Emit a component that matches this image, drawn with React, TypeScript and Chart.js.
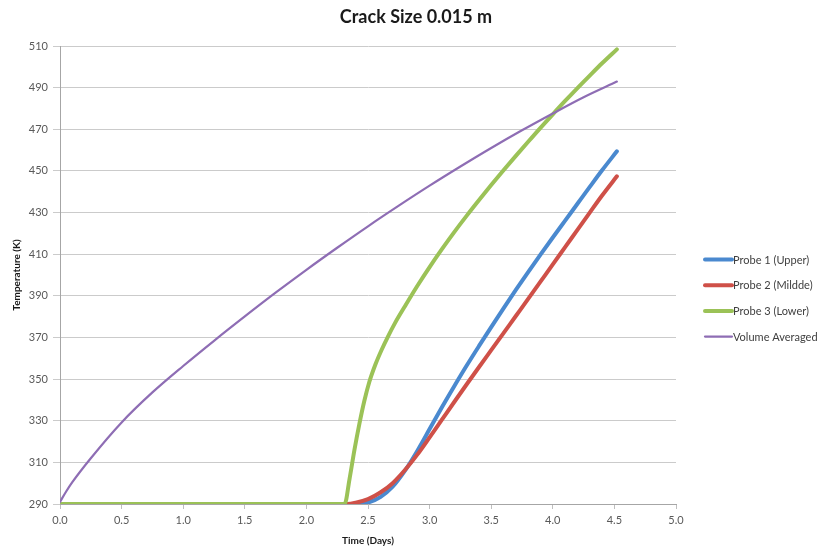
import React, { useEffect, useRef } from 'react';
import { Chart, registerables } from 'chart.js';

Chart.register(...registerables);

const TITLE = 'Crack Size 0.015 m';
const X_TITLE = 'Time (Days)';
const Y_TITLE = 'Temperature (K)';
const SERIES_NAMES = ['Probe 1 (Upper)', 'Probe 2 (Mildde)', 'Probe 3 (Lower)', 'Volume Averaged'];
const SERIES_COLORS = ['#4A89CF', '#CF5048', '#9BC257', '#8E6DB4'];
const SERIES_WIDTHS = [4, 4, 4, 2.2];

const X_MIN = 0;
const X_MAX = 5;
const X_STEP = 0.5;
const Y_MIN = 290;
const Y_MAX = 510;
const Y_STEP = 20;

const probe1Days = [0, 2.4, 2.5, 2.6, 2.7, 2.8, 2.9, 3.0, 3.1, 3.2, 3.3, 3.4, 3.5, 3.6, 3.7, 3.8, 3.9, 4.0, 4.1, 4.2, 4.3, 4.4, 4.52];
const probe1Temp = [290, 290, 290.7, 293.3, 298.3, 306, 315.5, 326, 336.5, 346.6, 356.4, 365.8, 375, 384, 392.8, 401.4, 409.8, 418, 426.1, 434.2, 442.3, 450.3, 459.4];

const probe2Days = [0, 2.33, 2.4, 2.5, 2.6, 2.7, 2.8, 2.9, 3.0, 3.1, 3.2, 3.3, 3.4, 3.5, 3.6, 3.7, 3.8, 3.9, 4.0, 4.1, 4.2, 4.3, 4.4, 4.52];
const probe2Temp = [290, 290, 290.6, 292.3, 295.5, 300, 306.3, 313.7, 322, 330.5, 339, 347.4, 355.7, 363.9, 372.1, 380.3, 388.5, 396.8, 405.1, 413.4, 421.7, 430, 438.2, 447.4];

const probe3Days = [0, 2.31, 2.35, 2.39, 2.43, 2.47, 2.51, 2.56, 2.61, 2.66, 2.72, 2.8, 2.9, 3.0, 3.1, 3.2, 3.3, 3.4, 3.5, 3.6, 3.7, 3.8, 3.9, 4.0, 4.1, 4.2, 4.3, 4.4, 4.52];
const probe3Temp = [290, 290, 302, 316, 328.5, 339.5, 348.5, 357, 364, 370.2, 377, 385, 394.7, 403.8, 412.4, 420.6, 428.4, 435.9, 443.2, 450.3, 457.2, 464, 470.7, 477.2, 483.6, 489.8, 495.8, 501.7, 508.4];

const volDays = [0, 0.05, 0.1, 0.25, 0.5, 0.75, 1.0, 1.25, 1.5, 1.75, 2.0, 2.25, 2.5, 2.75, 3.0, 3.25, 3.5, 3.75, 4.0, 4.25, 4.52];
const volTemp = [291, 296, 300.5, 312, 329.2, 343.6, 356.3, 368.4, 380.1, 391.5, 402.5, 413.1, 423.4, 433.3, 442.9, 452.1, 461, 469.5, 477.6, 485.4, 492.9];

const SERIES_DAYS = [probe1Days, probe2Days, probe3Days, volDays];
const SERIES_TEMPS = [probe1Temp, probe2Temp, probe3Temp, volTemp];

const FONT = 'Lato, "Open Sans", "Liberation Sans", sans-serif';
const TICK_COLOR = '#595959';

const decorPlugin = {
  id: 'decor',
  afterDraw(chart: any) {
    const { ctx, chartArea } = chart;
    ctx.save();
    ctx.fillStyle = '#1a1a1a';
    ctx.font = `bold 18px ${FONT}`;
    ctx.textAlign = 'center';
    ctx.textBaseline = 'middle';
    ctx.fillText(TITLE, chart.width / 2 + 3, 17);
    const lx0 = chartArea.right + 29;
    const lx1 = chartArea.right + 56;
    const y0 = 259.5;
    const dy = 25.7;
    ctx.font = `11px ${FONT}`;
    ctx.textAlign = 'left';
    ctx.lineCap = 'round';
    SERIES_NAMES.forEach((name, i) => {
      const y = y0 + i * dy;
      ctx.strokeStyle = SERIES_COLORS[i];
      ctx.lineWidth = SERIES_WIDTHS[i];
      ctx.beginPath();
      ctx.moveTo(lx0, y);
      ctx.lineTo(lx1, y);
      ctx.stroke();
      ctx.fillStyle = '#404040';
      ctx.fillText(name, lx1 + 1, y + 0.5);
    });
    ctx.restore();
  },
};

export default function App() {
  const ref = useRef<HTMLCanvasElement | null>(null);

  useEffect(() => {
    document.body.style.margin = '0';
    const canvas = ref.current;
    if (!canvas) return;
    const datasets = SERIES_NAMES.map((name, i) => ({
      label: name,
      data: SERIES_DAYS[i].map((d, k) => ({ x: d, y: SERIES_TEMPS[i][k] })),
      borderColor: SERIES_COLORS[i],
      backgroundColor: SERIES_COLORS[i],
      borderWidth: SERIES_WIDTHS[i],
      pointRadius: 0,
      fill: false,
      cubicInterpolationMode: 'monotone' as const,
      borderCapStyle: 'round' as const,
      borderJoinStyle: 'round' as const,
      order: 3 - i,
    }));
    const chart = new Chart(canvas, {
      type: 'line',
      data: { datasets },
      options: {
        responsive: false,
        animation: false,
        devicePixelRatio: 1,
        layout: { padding: { top: 46, right: 150, left: 0, bottom: 0 } },
        plugins: {
          legend: { display: false },
          tooltip: { enabled: false },
          title: { display: false },
        },
        scales: {
          x: {
            type: 'linear',
            min: X_MIN,
            max: X_MAX,
            afterFit: (s: any) => { s.height = 46; },
            ticks: {
              stepSize: X_STEP,
              autoSkip: false,
              maxRotation: 0,
              padding: 5,
              color: TICK_COLOR,
              font: { family: FONT, size: 11 },
              callback: (v: any) => Number(v).toFixed(1),
            },
            grid: { drawOnChartArea: false, tickLength: 5, color: '#BFBFBF' },
            border: { color: '#A6A6A6' },
            title: {
              display: true,
              text: X_TITLE,
              color: '#1a1a1a',
              font: { family: FONT, size: 10, weight: 'bold' },
              padding: { top: 0, bottom: 3 },
            },
          },
          y: {
            type: 'linear',
            min: Y_MIN,
            max: Y_MAX,
            afterFit: (s: any) => { s.width = 60; },
            ticks: {
              stepSize: Y_STEP,
              autoSkip: false,
              padding: 5,
              color: TICK_COLOR,
              font: { family: FONT, size: 11 },
            },
            grid: { color: '#CBCBCB', tickLength: 7 },
            border: { color: '#A6A6A6' },
            title: {
              display: true,
              text: Y_TITLE,
              color: '#1a1a1a',
              font: { family: FONT, size: 10, weight: 'bold' },
              padding: { top: 11, bottom: 0 },
            },
          },
        },
      },
      plugins: [decorPlugin],
    });
    return () => chart.destroy();
  }, []);

  return (
    <div style={{ width: 826, height: 550 }}>
      <canvas ref={ref} width={826} height={550} style={{ display: 'block' }} />
    </div>
  );
}
